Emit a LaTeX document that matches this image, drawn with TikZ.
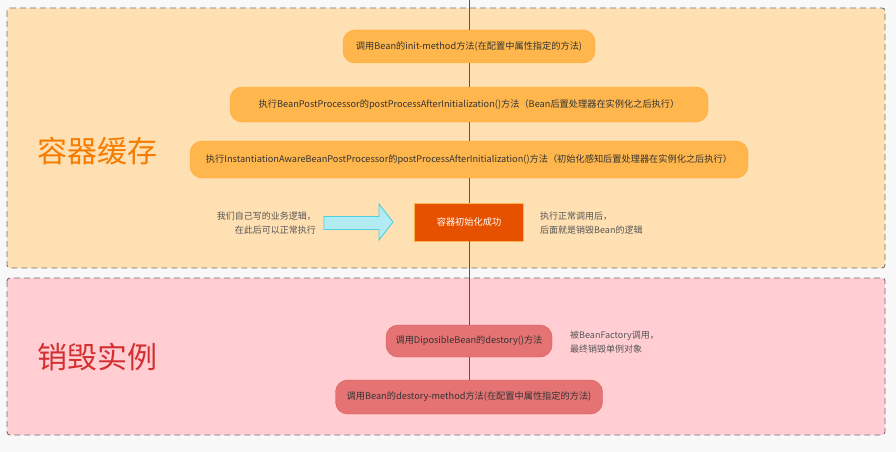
\documentclass[tikz,border=0pt]{standalone}
\usepackage{fontspec}
\newfontfamily\cjk{Noto Sans CJK SC}
\usepackage{tikz}
\definecolor{pagegray}{HTML}{F8F8F9}
\definecolor{cacheback}{HTML}{FFE0B2}
\definecolor{destroyback}{HTML}{FFCDD2}
\definecolor{dashgray}{HTML}{707070}
\definecolor{steporange}{HTML}{FFB74D}
\definecolor{stepedge}{HTML}{FFA733}
\definecolor{okorange}{HTML}{E65100}
\definecolor{stepred}{HTML}{E57373}
\definecolor{rededge}{HTML}{D45A5A}
\definecolor{arrowfill}{HTML}{B2EBF2}
\definecolor{arrowedge}{HTML}{4DD0E1}
\definecolor{bigorange}{HTML}{F57C00}
\definecolor{bigred}{HTML}{D32F2F}
\definecolor{textgray}{HTML}{333333}
\definecolor{notegray}{HTML}{555555}
\tikzset{
  phase/.style={draw=dashgray, line width=0.9pt, dash pattern=on 6pt off 4pt, rounded corners=3pt},
  pill/.style={rounded corners=12pt, draw=stepedge, fill=steporange, text=textgray,
    font=\cjk\fontsize{9.2}{11}\selectfont, inner sep=0pt},
  redpill/.style={pill, draw=rededge, fill=stepred},
  done/.style={draw=steporange, fill=okorange, text=white, inner sep=0pt,
    font=\cjk\fontsize{9.2}{11}\selectfont},
  note/.style={text=notegray, inner sep=0pt, font=\cjk\fontsize{9}{14}\selectfont},
  title/.style={inner sep=0pt, font=\cjk\fontsize{30}{32}\selectfont},
  flow/.style={draw=notegray, line width=0.8pt},
}

\begin{document}
\begin{tikzpicture}[x=1pt, y=-1pt]
        \useasboundingbox[fill=pagegray] (0, 0) rectangle (896, 452);
        \draw[phase, fill=cacheback] (7, 8) rectangle (885, 268);
        \draw[phase, fill=destroyback] (7, 278) rectangle (885, 435);

        \draw (97, 151) node(a)[title, text=bigorange]{容器缓存};
        \draw (97, 357) node(b)[title, text=bigred]{销毁实例};

        \coordinate (0) at (469, 0);
        \draw (469, 46.5) node(1)[pill, minimum width=252, minimum height=33]{调用Bean的init-method方法(在配置中属性指定的方法)};
        \draw (469, 104.5) node(2)[pill, minimum width=478, minimum height=35]{执行BeanPostProcessor的postProcessAfterInitialization()方法（Bean后置处理器在实例化之后执行）};
        \draw (469, 159.5) node(3)[pill, minimum width=558, minimum height=37]{执行InstantiationAwareBeanPostProcessor的postProcessAfterInitialization()方法（初始化感知后置处理器在实例化之后执行）};
        \draw (469, 222) node(4)[done, minimum width=109, minimum height=38]{容器初始化成功};
        \draw (469, 341) node(5)[redpill, minimum width=166, minimum height=32]{调用DiposibleBean的destory()方法};
        \draw (469, 397) node(6)[redpill, minimum width=267, minimum height=34]{调用Bean的destory-method方法(在配置中属性指定的方法)};
        \draw[flow] (0) -- (1);
        \draw[flow] (1) -- (2);
        \draw[flow] (2) -- (3);
        \draw[flow] (3) -- (4);
        \draw[flow] (4) -- (5);
        \draw[flow] (5) -- (6);

        \draw (316, 223) node(7)[note, anchor=east, align=right]{我们自己写的业务逻辑，\\在此后可以正常执行};
        \draw[draw=arrowedge, fill=arrowfill, line width=0.9pt] (324, 216.5) -- (379, 216.5) -- (379, 204)
          -- (393, 222) -- (379, 240) -- (379, 229.5) -- (324, 229.5) -- cycle;
        \draw (540, 223) node(8)[note, anchor=west, align=left]{执行正常调用后，\\后面就是销毁Bean的逻辑};
        \draw (570, 342) node(9)[note, anchor=west, align=left]{被BeanFactory调用，\\最终销毁单例对象};
    \end{tikzpicture}
\end{document}
